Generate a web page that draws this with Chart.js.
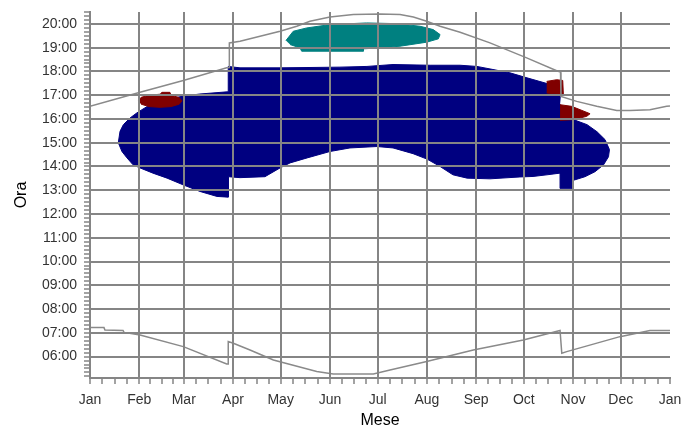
<!DOCTYPE html>
<html lang="it">
<head>
  <meta charset="UTF-8" />
  <title>Ombreggiamento – Ora / Mese</title>
  <script src="https://cdn.jsdelivr.net/npm/chart.js"></script>
  <style>
    body { margin: 0; background: #fff; }
    #wrap { width: 700px; height: 427px; }
  </style>
</head>
<body>
  <div id="wrap"><canvas id="sunChart" width="700" height="427"></canvas></div>

  <script>
    // x = day of year (0..365), y = hour of day (decimal)
    const monthStartDays = [0, 31, 59, 90, 120, 151, 181, 212, 243, 273, 304, 334, 365];
    const monthLabels = ["Jan", "Feb", "Mar", "Apr", "May", "Jun", "Jul", "Aug", "Sep", "Oct", "Nov", "Dec", "Jan"];
    const hourTicks = [6, 7, 8, 9, 10, 11, 12, 13, 14, 15, 16, 17, 18, 19, 20];
    const hourLabels = ["06:00", "07:00", "08:00", "09:00", "10:00", "11:00", "12:00", "13:00",
                        "14:00", "15:00", "16:00", "17:00", "18:00", "19:00", "20:00"];

    // blue area (outline)
    const shadeDays = [295.8, 302.1, 305.9, 312.8, 319.1, 324.1, 326.9, 326.3, 323.2, 317.8, 311.5, 303.3, 303.3,
      295.8, 295.8, 287.6, 278.8, 270.6, 251.7, 237.3, 228.4, 220.3, 212.1, 203.3, 190.7, 180.6, 163.6, 151.0,
      136.6, 125.9, 119.6, 110.1, 94.4, 87.0, 87.0, 79.9, 69.2, 58.5, 48.5, 39.6, 31.5, 27.1, 23.3, 20.1, 17.8,
      18.9, 21.0, 25.2, 29.4, 32.7, 37.8, 47.2, 57.9, 69.2, 86.2, 87.0, 87.0, 94.4, 119.6, 157.3, 174.3, 190.7,
      214.0, 232.9, 243.5, 253.6, 264.3, 275.0, 287.6, 293.3, 296.4];
    const shadeHours = [16.60, 16.31, 15.93, 15.76, 15.46, 15.13, 14.71, 14.41, 14.07, 13.78, 13.57, 13.40, 13.08,
      13.08, 13.72, 13.65, 13.58, 13.56, 13.48, 13.51, 13.65, 14.00, 14.31, 14.54, 14.78, 14.84, 14.78, 14.63,
      14.36, 14.15, 13.94, 13.57, 13.53, 13.57, 12.71, 12.74, 12.95, 13.23, 13.51, 13.72, 13.94, 14.07, 14.36,
      14.63, 15.00, 15.48, 15.76, 16.04, 16.25, 16.39, 16.60, 16.81, 16.95, 17.05, 17.14, 17.14, 18.21, 18.15,
      18.15, 18.18, 18.21, 18.29, 18.26, 18.26, 18.21, 18.08, 17.94, 17.73, 17.49, 17.32, 17.02];

    // teal area
    const tealDays = [123.3, 127.9, 136.4, 151.0, 174.1, 193.0, 207.7, 216.0, 220.3, 219.2, 211.9, 195.1, 182.5,
      172.0, 172.0, 133.2, 132.2, 125.9];
    const tealHours = [19.30, 19.69, 19.83, 19.97, 20.04, 20.01, 19.90, 19.76, 19.55, 19.37, 19.23, 19.06, 18.99,
      18.95, 18.85, 18.85, 18.99, 19.13];

    // dark red areas
    const redLeftDays = [30.3, 32.2, 37.2, 44.1, 45.3, 50.3, 51.0, 56.1, 57.9, 56.1, 51.0, 44.1, 37.2, 32.2];
    const redLeftHours = [16.76, 16.91, 17.00, 17.04, 17.12, 17.12, 17.00, 16.90, 16.76, 16.62, 16.52, 16.49, 16.52, 16.62];
    const redUpDays = [287.4, 293.7, 297.5, 297.9, 287.4];
    const redUpHours = [17.58, 17.65, 17.62, 17.02, 17.09];
    const redLowDays = [295.8, 303.1, 308.4, 314.7, 312.6, 304.2, 295.8];
    const redLowHours = [16.60, 16.53, 16.39, 16.22, 16.11, 15.97, 15.94];

    // sunset / sunrise lines
    const sunsetDays = [0, 31.5, 58.7, 86.0, 87.7, 87.7, 94.4, 107.0, 119.6, 130.1, 138.4, 151.0, 165.7, 182.5,
      195.1, 203.5, 211.9, 220.3, 232.9, 251.7, 274.8, 293.7, 296.1, 296.4, 306.3, 318.9, 331.5, 339.8, 352.4, 362.9, 365];
    const sunsetHours = [16.53, 17.12, 17.62, 18.15, 18.16, 19.20, 19.27, 19.48, 19.69, 19.90, 20.11, 20.29, 20.39,
      20.42, 20.39, 20.29, 20.11, 19.90, 19.65, 19.20, 18.57, 18.03, 17.97, 16.95, 16.74, 16.53, 16.36, 16.36, 16.39, 16.53, 16.54];
    const sunriseDays = [0, 8.8, 9.4, 20.8, 21.4, 31.5, 58.7, 86.0, 87.0, 87.0, 90.2, 100.7, 115.4, 142.7, 153.1,
      178.3, 188.8, 211.9, 241.2, 272.7, 295.8, 296.9, 300.0, 333.5, 352.4, 365];
    const sunriseHours = [7.23, 7.22, 7.12, 7.10, 7.02, 6.91, 6.42, 5.69, 5.69, 6.63, 6.56, 6.28, 5.86, 5.37, 5.27,
      5.27, 5.44, 5.79, 6.28, 6.70, 7.10, 6.14, 6.21, 6.84, 7.10, 7.10];

    const GRID = "#858585";
    const FONT = "'Liberation Sans', Arial, sans-serif";

    const pts = (xs, ys) => xs.map((x, i) => ({ x: x, y: ys[i] }));
    const area = (xs, ys, color) => ({
      data: pts(xs, ys), fill: "shape", backgroundColor: color, borderColor: color,
      borderWidth: 1, pointRadius: 0, tension: 0
    });
    const line = (xs, ys) => ({
      data: pts(xs, ys), fill: false, borderColor: "#8a8a8a", borderWidth: 1.5, pointRadius: 0, tension: 0
    });

    const isHour = v => hourTicks.some(h => Math.abs(h - v) < 1e-6);
    const isMonth = v => monthStartDays.slice(0, 12).some(d => Math.abs(d - v) < 1e-6);

    // Chart.js paints the first dataset last (on top)
    new Chart(document.getElementById("sunChart"), {
      type: "line",
      data: {
        datasets: [
          line(sunsetDays, sunsetHours),
          line(sunriseDays, sunriseHours),
          area(redLeftDays, redLeftHours, "#800000"),
          area(redUpDays, redUpHours, "#800000"),
          area(redLowDays, redLowHours, "#800000"),
          area(tealDays, tealHours, "#008080"),
          area(shadeDays, shadeHours, "#000080")
        ]
      },
      options: {
        responsive: false,
        animation: false,
        layout: { padding: { top: 12, right: 30, bottom: 0, left: 0 } },
        plugins: { legend: { display: false }, tooltip: { enabled: false } },
        scales: {
          x: {
            type: "linear", min: 0, max: 365,
            afterBuildTicks: scale => {
              const t = [];
              for (let i = 0; i < 12; i++) {
                const a = monthStartDays[i], len = monthStartDays[i + 1] - a;
                for (let k = 0; k < 4; k++) t.push({ value: a + k * len / 4 });
              }
              t.push({ value: 365 });
              scale.ticks = t;
            },
            afterFit: scale => { scale.height = 49; scale.paddingLeft = 0; scale.paddingRight = 0; },
            grid: {
              z: 1,
              color: c => (c.tick && isMonth(c.tick.value)) ? GRID : "rgba(0,0,0,0)",
              lineWidth: 2, tickColor: GRID, tickWidth: 1.5, tickLength: 6
            },
            border: { display: true, color: GRID, width: 2, z: 1 },
            ticks: {
              autoSkip: false, maxRotation: 0, padding: 8, color: "#333",
              font: { family: FONT, size: 14 },
              callback: v => {
                const i = monthStartDays.findIndex(d => Math.abs(d - v) < 1e-6);
                return i >= 0 ? monthLabels[i] : "";
              }
            },
            title: { display: true, text: "Mese", color: "#000", padding: { top: 0, bottom: 0 },
                     font: { family: FONT, size: 16, lineHeight: 0.75 } }
          },
          y: {
            type: "linear", min: 5.1, max: 20.5,
            afterBuildTicks: scale => {
              const t = [];
              for (let m = 310; m <= 1230; m += 10) t.push({ value: m / 60 });
              scale.ticks = t;
            },
            afterFit: scale => { scale.width = 90; scale.paddingTop = 0; scale.paddingBottom = 0; },
            grid: {
              z: 1,
              color: c => (c.tick && isHour(c.tick.value)) ? GRID : "rgba(0,0,0,0)",
              lineWidth: 2, tickColor: GRID, tickWidth: 1.5, tickLength: 6
            },
            border: { display: true, color: GRID, width: 2, z: 1 },
            ticks: {
              autoSkip: false, padding: 7, color: "#333",
              font: { family: FONT, size: 14 },
              callback: v => {
                const i = hourTicks.findIndex(h => Math.abs(h - v) < 1e-6);
                return i >= 0 ? hourLabels[i] : "";
              }
            },
            title: { display: true, text: "Ora", color: "#000", padding: { top: 12, bottom: 0 },
                     font: { family: FONT, size: 16 } }
          }
        }
      }
    });
  </script>
</body>
</html>
